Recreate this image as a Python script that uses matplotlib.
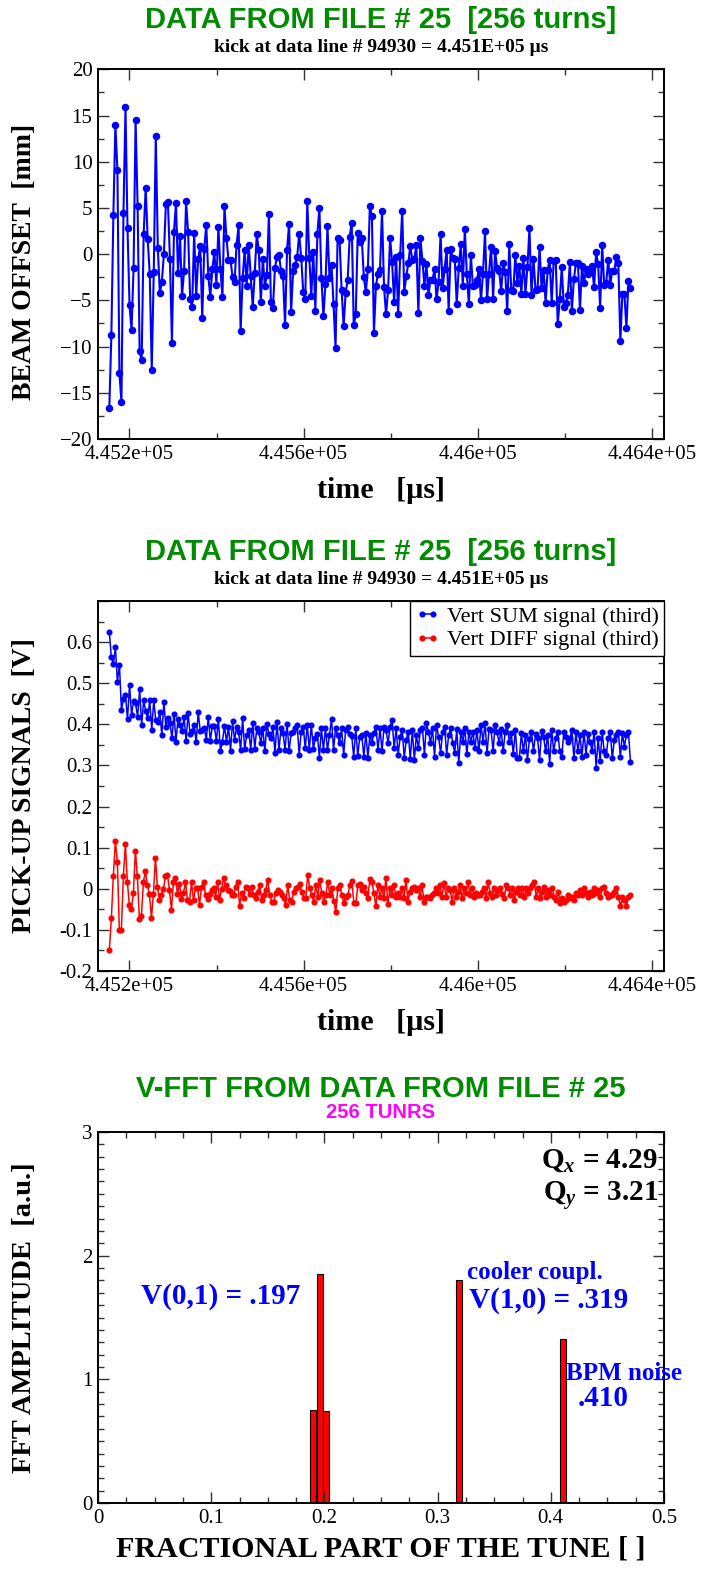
import numpy as np
import matplotlib
matplotlib.use('Agg')
import matplotlib.pyplot as plt
from matplotlib.ticker import MultipleLocator

# ---- data ----
t_start, t_end = 445154.0, 446350.0   # time of first / last turn [us]

beam_offset = [
    -16.6, -8.8, 4.2, 14.0, 9.1, -12.9, -16.0, 4.5, 15.9, 2.8,
    -5.5, -8.2, -1.5, 14.5, 5.2, -10.5, -11.5, 2.2, 7.2, 1.6,
    -2.1, -12.5, -1.9, 12.8, 0.7, -4.2, -3.0, 0.0, 5.4, 5.6,
    -0.5, -9.6, 2.4, 5.5, -2.0, 2.0, -4.5, -1.8, 5.7, 2.4,
    -4.8, -5.7, 2.3, -4.5, -0.5, 0.9, -6.9, 0.6, 3.2, -2.4,
    -4.6, -1.6, 0.2, -3.3, 2.9, -1.6, -4.6, 5.2, 1.7, -0.6,
    -0.6, -2.5, -3.0, 1.0, 3.1,
    -8.3, -2.6, 0.5, -3.4, 1.0, -2.4, -5.7, -2.0, 2.2, 0.4,
    -5.2, -0.5, -3.4, -2.3, 4.3, -5.2, -5.8, -1.5, -0.3, -0.1,
    -1.8, -2.4, -7.7, 0.5, 3.3, -6.3, -1.8, -1.2, -0.3, 2.2,
    -0.4, -4.1, -4.8, 5.8, -0.4, -4.5, 0.2, -6.1, 2.2, 5.0,
    -2.6, -6.7, -3.2, 3.0, -2.6, -1.2, -5.4, -10.2, 1.7, 1.5,
    -3.9, -7.8, -4.2, -2.8, 1.9, 3.4, -7.7, -6.5, 2.3, 1.3,
    1.7, -2.5, -4.1, -1.6, 5.2, 4.1, -8.5,
    -3.4, -2.1, -1.7, 4.7, -3.6, -6.5, -3.9, 1.8, -0.9, -5.2,
    -0.3, -6.5, -0.1, 4.7, -4.1, -2.4, -1.0, 0.9, -0.6, -0.5,
    1.0, -6.4, 1.7, -0.7, -3.4, -1.1, -4.4, -2.8, -2.8, -1.6,
    -4.9, -3.0, 2.2, -3.7, -1.6, 0.5, -6.1, 0.6, -0.4, -0.5,
    -5.4, -1.5, 1.1, -3.4, 2.7, -2.2, -5.4, -0.1, -3.5, -3.3,
    -2.8, -1.6, -5.0, -2.1, 2.5, -4.9, -2.1, 0.8, -4.8, 0.3,
    -1.5, -1.8, -4.0, -1.0, -1.9, -6.2, 1.1, -3.9, -4.0, -0.1,
    -3.1, -1.3, -4.3, -0.4, -4.3, -1.4, 2.8, -4.4, -0.5, -3.9,
    -3.8, 0.8, -3.7, -1.7, -5.3, -1.7, -0.6, -5.3, -0.7, -0.6,
    -7.6, -4.9, -1.4, -5.7, -5.3, -4.4, -0.9, -6.1, -2.7, -1.0,
    -1.0, -6.0, -1.3, -3.1, -1.6, -2.1, -1.6, -1.3, -3.6, 0.2,
    -1.1, -5.8, 1.0, -3.3, -3.1, -0.6, -3.3, -1.8, -1.8, -0.3,
    -1.0, -9.4, -4.3, -4.3, -8.0, -2.9, -3.7]

sum_signal = [
    0.624, 0.563, 0.547, 0.587, 0.504, 0.545, 0.435, 0.462, 0.472, 0.412,
    0.496, 0.423, 0.457, 0.451, 0.417, 0.485, 0.399, 0.458, 0.432, 0.415,
    0.459, 0.387, 0.458, 0.410, 0.406, 0.429, 0.374, 0.454, 0.393, 0.416,
    0.403, 0.366, 0.426, 0.358, 0.414, 0.399, 0.383, 0.418, 0.360, 0.427,
    0.376, 0.383, 0.399, 0.356, 0.430, 0.384, 0.386, 0.392, 0.363, 0.418,
    0.360, 0.396, 0.395, 0.360, 0.413, 0.336, 0.358, 0.396, 0.358, 0.394,
    0.336, 0.408, 0.362, 0.394,
    0.382, 0.338, 0.415, 0.339, 0.374, 0.386, 0.338, 0.403, 0.341, 0.390,
    0.381, 0.354, 0.391, 0.334, 0.402, 0.376, 0.366, 0.394, 0.330, 0.405,
    0.338, 0.390, 0.378, 0.338, 0.402, 0.335, 0.378, 0.382, 0.392, 0.399,
    0.326, 0.382, 0.394, 0.342, 0.399, 0.338, 0.399, 0.341, 0.366, 0.376,
    0.319, 0.390, 0.337, 0.392, 0.337, 0.374, 0.414, 0.338, 0.390, 0.374,
    0.354, 0.390, 0.325, 0.386, 0.394, 0.376, 0.372, 0.320, 0.390, 0.323,
    0.370, 0.374, 0.321, 0.380, 0.319, 0.374, 0.354, 0.378, 0.394,
    0.338, 0.390, 0.334, 0.394, 0.386, 0.354, 0.394, 0.411, 0.342, 0.390,
    0.326, 0.370, 0.386, 0.319, 0.362, 0.382, 0.315, 0.386, 0.313, 0.374,
    0.342, 0.386, 0.392, 0.326, 0.403, 0.382, 0.354, 0.392, 0.321, 0.399,
    0.370, 0.330, 0.382, 0.394, 0.326, 0.374, 0.390, 0.354, 0.330, 0.388,
    0.305, 0.382, 0.358, 0.390, 0.327, 0.381, 0.358, 0.382, 0.342, 0.386,
    0.334, 0.399, 0.358, 0.403, 0.330, 0.388, 0.386, 0.334, 0.399, 0.381,
    0.354, 0.388, 0.334, 0.382, 0.399, 0.358, 0.378, 0.327, 0.386, 0.319,
    0.317, 0.378, 0.334, 0.374, 0.313, 0.364, 0.382, 0.334, 0.376, 0.366,
    0.313, 0.384, 0.370, 0.334, 0.374, 0.303, 0.386, 0.334, 0.366, 0.382,
    0.334, 0.321, 0.382, 0.370, 0.358, 0.366, 0.386, 0.317, 0.382, 0.334,
    0.374, 0.321, 0.382, 0.326, 0.376, 0.358, 0.334, 0.382, 0.295, 0.366,
    0.311, 0.382, 0.334, 0.326, 0.366, 0.382, 0.317, 0.362, 0.374, 0.382,
    0.321, 0.378, 0.346, 0.374, 0.382, 0.309]

diff_signal = [
    -0.150, -0.072, 0.031, 0.116, 0.066, -0.100, -0.100, 0.030, 0.108, 0.016,
    -0.039, -0.050, -0.011, 0.093, 0.030, -0.074, -0.066, 0.016, 0.043, 0.009,
    -0.013, -0.070, -0.013, 0.076, 0.004, -0.027, -0.015, -0.001, 0.030, 0.034,
    -0.003, -0.052, 0.017, 0.027, -0.012, 0.011, -0.025, -0.011, 0.017, -0.027,
    -0.031, 0.016, -0.027, 0.001, 0.003, -0.039, 0.005, 0.016, -0.015, -0.025,
    -0.013, -0.003, 0.001, -0.019, 0.016, -0.027, -0.001, 0.026, 0.009, -0.003,
    -0.005, -0.015, -0.015, 0.005,
    0.016, -0.041, -0.011, -0.023, 0.005, 0.001, -0.013, 0.005, -0.015, -0.023,
    -0.007, 0.009, -0.027, -0.015, -0.003, 0.021, -0.015, -0.031, -0.031, -0.011,
    -0.003, -0.007, -0.015, -0.023, -0.039, 0.009, -0.027, -0.031, -0.007, 0.001,
    0.005, 0.011, -0.007, -0.023, -0.023, 0.034, 0.001, -0.015, -0.031, 0.009,
    -0.019, 0.021, -0.011, -0.031, -0.015, 0.016, -0.015, 0.001, -0.030, -0.056,
    0.001, 0.009, -0.015, -0.035, -0.019, -0.015, 0.009, 0.019, -0.035, -0.035,
    0.009, 0.011, -0.003, 0.005, -0.011, -0.023, 0.024, 0.017, -0.011, -0.043,
    0.009, -0.019, 0.001, -0.023, 0.026, -0.038, 0.001, -0.015, 0.009, -0.019,
    -0.011, -0.019, 0.001, -0.023, 0.021, -0.031, -0.007, 0.001, 0.005, -0.003,
    0.001, -0.019, 0.009, -0.031, -0.019, -0.019, -0.023, -0.015, -0.011, 0.001,
    -0.011, 0.009, -0.019, 0.013, -0.019, 0.001, -0.003, -0.031, 0.001, -0.019,
    -0.007, 0.009, -0.023, 0.001, -0.011, 0.016, -0.015, 0.001, -0.019, -0.011,
    -0.015, -0.015, -0.007, 0.001, -0.023, 0.016, -0.011, -0.019, 0.001, -0.015,
    -0.003, 0.001, -0.013, -0.023, 0.008, 0.001, -0.015, 0.001, -0.027, -0.007,
    0.001,
    -0.015, 0.001, -0.019, 0.001, -0.011, 0.001, 0.009, 0.016, -0.019, 0.001,
    -0.023, -0.007, 0.005, -0.019, -0.003, -0.015, 0.001, -0.019, -0.027, -0.007,
    -0.035, -0.023, -0.031, -0.027, -0.015, -0.023, -0.019, -0.027, -0.011, -0.015,
    -0.003, -0.015, 0.001, -0.011, -0.019, -0.007, -0.015, 0.001, -0.011, -0.003,
    -0.019, 0.001, 0.005, -0.011, -0.019, -0.015, -0.015, -0.007, 0.001, -0.019,
    -0.043, -0.019, -0.027, -0.043, -0.019, -0.015]

tune = [0.1897, 0.1962, 0.2012, 0.3188, 0.4108]
fft_amp = [0.75, 1.85, 0.745, 1.80, 1.325]

time_ticks = [445200, 445600, 446000, 446400]
time_labels = ['4.452e+05', '4.456e+05', '4.46e+05', '4.464e+05']
pick_ticks = [-0.2, -0.1, 0, 0.1, 0.2, 0.3, 0.4, 0.5, 0.6, 0.7]
pick_labels = ['-0.2', '-0.1', '0', '0.1', '0.2', '0.3', '0.4', '0.5', '0.6', '']
tune_ticks = [0, 0.1, 0.2, 0.3, 0.4, 0.5]
tune_labels = ['0', '0.1', '0.2', '0.3', '0.4', '0.5']

title = 'DATA FROM FILE # 25  [256 turns]'
subtitle = 'kick at data line # 94930 = 4.451E+05 \u00b5s'

# ---- style ----
plt.rcParams['font.family'] = ['Liberation Serif', 'DejaVu Serif']
plt.rcParams['mathtext.fontset'] = 'custom'
plt.rcParams['mathtext.rm'] = 'Liberation Serif:bold'
plt.rcParams['mathtext.it'] = 'Liberation Serif:italic:bold'
plt.rcParams['mathtext.bf'] = 'Liberation Serif:bold'

W, H = 703, 1572
green = '#008c00'
blue = '#0000ff'
fig = plt.figure(figsize=(W / 100, H / 100), dpi=100)


def box(l, t, r, b):
    return [l / W, 1 - b / H, (r - l) / W, (b - t) / H]


def fx(x):
    return x / W


def fy(y):
    return 1 - y / H


def style(ax):
    ax.tick_params(which='both', direction='in', top=True, right=True,
                   labelsize=15, color='#333333')
    ax.tick_params(which='major', length=8, width=1, pad=4)
    ax.tick_params(which='minor', length=4, width=1)
    for s in ax.spines.values():
        s.set_linewidth(1.4)


def head(y, text, sub):
    fig.text(fx(381), fy(y), text, ha='center', va='baseline', fontsize=21,
             fontweight='bold', color=green, family='Liberation Sans')
    fig.text(fx(381), fy(y + 23), sub, ha='center', va='baseline', fontsize=14,
             fontweight='bold')


def label(x, y, text, rot=0, size=21.6):
    fig.text(fx(x), fy(y), text, ha='center', va='center', rotation=rot,
             fontsize=size, fontweight='bold')


# ---- top: beam offset ----
ax1 = fig.add_axes(box(98, 69.3, 664, 439))
t1 = np.linspace(t_start, t_end, len(beam_offset))
ax1.plot(t1, beam_offset, '-o', color=blue, lw=1.5, ms=4.4)
ax1.set_xlim(445128, 446427)
ax1.set_ylim(-20, 20)
ax1.set_xticks(time_ticks)
ax1.set_xticklabels(time_labels)
ax1.xaxis.set_minor_locator(MultipleLocator(200))
ax1.yaxis.set_major_locator(MultipleLocator(5))
ax1.yaxis.set_minor_locator(MultipleLocator(2.5))
style(ax1)
head(28.5, title, subtitle)
label(25, 262, 'BEAM OFFSET  [mm]', 90, 20)
label(381, 491, 'time   [\u00b5s]')

# ---- middle: pick-up signals ----
ax2 = fig.add_axes(box(98, 601, 664, 971))
t2 = np.linspace(t_start, t_end, len(sum_signal))
t3 = np.linspace(t_start, t_end, len(diff_signal))
ax2.plot(t2, sum_signal, '-o', color=blue, lw=1.1, ms=3.4,
         label='Vert SUM signal (third)')
ax2.plot(t3, diff_signal, '-o', color='#ff0000', lw=1.1, ms=3.4,
         label='Vert DIFF signal (third)')
ax2.set_xlim(445128, 446427)
ax2.set_ylim(-0.2, 0.7)
ax2.set_xticks(time_ticks)
ax2.set_xticklabels(time_labels)
ax2.xaxis.set_minor_locator(MultipleLocator(200))
ax2.set_yticks(pick_ticks)
ax2.set_yticklabels(pick_labels)
ax2.yaxis.set_minor_locator(MultipleLocator(0.05))
style(ax2)
leg = ax2.legend(loc='upper right', fontsize=16, numpoints=2, handlelength=1.1,
                 handletextpad=0.3, borderpad=0.25, labelspacing=0.12,
                 borderaxespad=0, fancybox=False, framealpha=1, edgecolor='black')
leg.get_frame().set_linewidth(1.0)
head(560.5, title, subtitle)
label(25, 786, 'PICK-UP SIGNALS  [V]', 90, 20)
label(381, 1023, 'time   [\u00b5s]')

# ---- bottom: FFT ----
ax3 = fig.add_axes(box(98, 1132, 664, 1503))
ax3.bar(tune, fft_amp, width=0.0052, color='#ff0000', edgecolor='black', lw=0.8)
ax3.set_xlim(0, 0.5)
ax3.set_ylim(0, 3)
ax3.set_xticks(tune_ticks)
ax3.set_xticklabels(tune_labels)
ax3.xaxis.set_minor_locator(MultipleLocator(0.025))
ax3.yaxis.set_major_locator(MultipleLocator(1))
ax3.yaxis.set_minor_locator(MultipleLocator(0.1))
style(ax3)
fig.text(fx(381), fy(1097), 'V-FFT FROM DATA FROM FILE # 25', ha='center',
         va='baseline', fontsize=21, fontweight='bold', color=green,
         family='Liberation Sans')
fig.text(fx(381), fy(1118), '256 TUNRS', ha='center', va='baseline',
         fontsize=14.5, fontweight='bold', color='#ff00ff', family='Liberation Sans')
label(25, 1318, 'FFT AMPLITUDE  [a.u.]', 90, 20.5)
label(381, 1549, 'FRACTIONAL PART OF THE TUNE [ ]')

fig.text(fx(658), fy(1161), r'Q$_{x}$ = 4.29', ha='right', va='center',
         fontsize=21, fontweight='bold')
fig.text(fx(658), fy(1196), r'Q$_{y}$ = 3.21', ha='right', va='center',
         fontsize=21, fontweight='bold')
fig.text(fx(221), fy(1297), 'V(0,1) = .197', ha='center', va='center',
         fontsize=21, fontweight='bold', color=blue)
fig.text(fx(467), fy(1272), 'cooler coupl.', ha='left', va='center',
         fontsize=18, fontweight='bold', color=blue)
fig.text(fx(469), fy(1301), 'V(1,0) = .319', ha='left', va='center',
         fontsize=21, fontweight='bold', color=blue)
fig.text(fx(566), fy(1373), 'BPM noise', ha='left', va='center',
         fontsize=18, fontweight='bold', color=blue)
fig.text(fx(578), fy(1398), '.410', ha='left', va='center',
         fontsize=21, fontweight='bold', color=blue)

fig.savefig('out.png', dpi=100)
